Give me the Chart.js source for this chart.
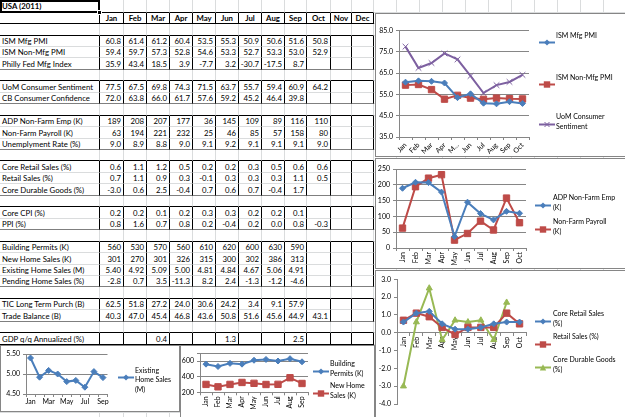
<!DOCTYPE html>
<html>
<head>
<meta charset="utf-8">
<script src="https://cdn.jsdelivr.net/npm/chart.js@4.4.0/dist/chart.umd.min.js"></script>
<style>
  body { margin: 0; background: #fff; font-family: Lato, "Liberation Sans", sans-serif; }
  #page { position: absolute; left: 0; top: 0; width: 625px; height: 417px; overflow: hidden; background: #fff; }
  .cell { position: absolute; box-sizing: border-box; font-size: 7.8px; white-space: nowrap; overflow: hidden; color: #000; }
  .box { position: absolute; box-sizing: border-box; background: #fff; border: 1px solid #868686; overflow: hidden; }
  .box canvas { position: absolute; left: 0; top: 0; }
  .leg { position: absolute; font-size: 7px; line-height: 9.2px; color: #000; white-space: nowrap; }
  .sw { position: absolute; }
</style>
</head>
<body>
<div id="page">
  <div id="sheet"></div>
  <div class="box" style="left:375px;top:13px;width:252px;height:144px"><canvas id="c1" width="250" height="142"></canvas></div>
  <div class="box" style="left:375px;top:158px;width:252px;height:111px"><canvas id="c2" width="250" height="109"></canvas></div>
  <div class="box" style="left:375px;top:270px;width:252px;height:150px"><canvas id="c3" width="250" height="148"></canvas></div>
  <div class="box" style="left:0px;top:345px;width:180px;height:67px"><canvas id="c4" width="178" height="65"></canvas></div>
  <div class="box" style="left:180px;top:345px;width:195px;height:76px"><canvas id="c5" width="193" height="74"></canvas></div>
  <div id="legends"></div>
</div>
<script>
// spreadsheet values, USA 2011
const months = ['Jan', 'Feb', 'Mar', 'Apr', 'May', 'Jun', 'Jul', 'Aug', 'Sep', 'Oct', 'Nov', 'Dec'];
const ismMfg = [60.8, 61.4, 61.2, 60.4, 53.5, 55.3, 50.9, 50.6, 51.6, 50.8];
const ismNonMfg = [59.4, 59.7, 57.3, 52.8, 54.6, 53.3, 52.7, 53.3, 53.0, 52.9];
const phillyFed = [35.9, 43.4, 18.5, 3.9, -7.7, 3.2, -30.7, -17.5, 8.7];
const uomSentiment = [77.5, 67.5, 69.8, 74.3, 71.5, 63.7, 55.7, 59.4, 60.9, 64.2];
const cbConfidence = [72.0, 63.8, 66.0, 61.7, 57.6, 59.2, 45.2, 46.4, 39.8];
const adpEmp = [189, 208, 207, 177, 36, 145, 109, 89, 116, 110];
const nonFarmPayroll = [63, 194, 221, 232, 25, 46, 85, 57, 158, 80];
const unemployment = [9.0, 8.9, 8.8, 9.0, 9.1, 9.2, 9.1, 9.1, 9.1, 9.0];
const coreRetail = [0.6, 1.1, 1.2, 0.5, 0.2, 0.2, 0.3, 0.5, 0.6, 0.6];
const retailSales = [0.7, 1.1, 0.9, 0.3, -0.1, 0.3, 0.3, 0.3, 1.1, 0.5];
const coreDurable = [-3.0, 0.6, 2.5, -0.4, 0.7, 0.6, 0.7, -0.4, 1.7];
const coreCpi = [0.2, 0.2, 0.1, 0.2, 0.3, 0.3, 0.2, 0.2, 0.1];
const ppi = [0.8, 1.6, 0.7, 0.8, 0.2, -0.4, 0.2, 0.0, 0.8, -0.3];
const buildingPermits = [560, 530, 570, 560, 610, 620, 600, 630, 590];
const newHomeSales = [301, 270, 301, 326, 315, 300, 302, 386, 313];
const existingHomeSales = [5.40, 4.92, 5.09, 5.00, 4.81, 4.84, 4.67, 5.06, 4.91];
const pendingHomeSales = [-2.8, 0.7, 3.5, -11.3, 8.2, 2.4, -1.3, -1.2, -4.6];
const ticPurchases = [62.5, 51.8, 27.2, 24.0, 30.6, 24.2, 3.4, 9.1, 57.9];
const tradeBalance = [40.3, 47.0, 45.4, 46.8, 43.6, 50.8, 51.6, 45.6, 44.9, 43.1];
const gdpAnnualized = [null, null, 0.4, null, null, 1.3, null, null, 2.5];

// axis tick labels of the charts
const surveyTicks = [35, 45, 55, 65, 75, 85];
const jobsTicks = [0, 50, 100, 150, 200, 250];
const retailTicks = [-4, -3, -2, -1, 0, 1, 2, 3];
const existingTicks = [4.5, 5.0, 5.5];
const housingTicks = [200, 400, 600];
const housingMax = 700;

const tableGroups = [
  [['ISM Mfg PMI', ismMfg, 1], ['ISM Non-Mfg PMI', ismNonMfg, 1], ['Philly Fed Mfg Index', phillyFed, 1]],
  [['UoM Consumer Sentiment', uomSentiment, 1], ['CB Consumer Confidence', cbConfidence, 1]],
  [['ADP Non-Farm Emp (K)', adpEmp, 0], ['Non-Farm Payroll (K)', nonFarmPayroll, 0], ['Unemplyment Rate (%)', unemployment, 1]],
  [['Core Retail Sales (%)', coreRetail, 1], ['Retail Sales (%)', retailSales, 1], ['Core Durable Goods (%)', coreDurable, 1]],
  [['Core CPI (%)', coreCpi, 1], ['PPI (%)', ppi, 1]],
  [['Building Permits (K)', buildingPermits, 0], ['New Home Sales (K)', newHomeSales, 0], ['Existing Home Sales (M)', existingHomeSales, 2], ['Pending Home Sales (%)', pendingHomeSales, 1]],
  [['TIC Long Term Purch (B)', ticPurchases, 1], ['Trade Balance (B)', tradeBalance, 1]],
  [['GDP q/q Annualized (%)', gdpAnnualized, 1]]
];

const GRIDLINE = '1px solid #dadcdd';
const BLACK = '1px solid #000';
const GROUP_END = '1px solid #7f7f7f';

// ---- the worksheet ----
const colX = [0, 100, 124, 147, 170, 193, 216, 239, 262, 285, 307, 331, 352, 374];
while (colX[colX.length - 1] < 640) colX.push(colX[colX.length - 1] + 23);
const rowY = [0];
for (let k = 2; k <= 40; k++) rowY.push(Math.round(12.6 + (k - 2) * 11.45));

const rows = [{ t: 'title' }, { t: 'header' }];
tableGroups.forEach((g, gi) => {
  rows.push({ t: 'blank' });
  g.forEach((r, ri) => rows.push({ t: 'data', label: r[0], values: r[1], dec: r[2],
    last: ri === g.length - 1, final: gi === tableGroups.length - 1 }));
});
while (rows.length < rowY.length - 1) rows.push({ t: 'empty' });

const sheet = document.getElementById('sheet');
rows.forEach((row, i) => {
  const top = rowY[i], h = rowY[i + 1] - rowY[i];
  const next = rows[i + 1] || { t: 'empty' };
  for (let c = 0; c < colX.length - 1; c++) {
    const inTable = c <= 12;
    const d = document.createElement('div');
    d.className = 'cell';
    const w = colX[c + 1] - colX[c];
    d.style.left = colX[c] + 'px';
    d.style.top = top + 'px';
    d.style.width = w + 'px';
    d.style.height = h + 'px';
    d.style.lineHeight = h + 'px';

    let right = GRIDLINE, bottom = GRIDLINE;
    if (inTable && (row.t === 'header' || row.t === 'data')) right = BLACK;
    if (row.t === 'title' && c >= 1 && inTable) bottom = BLACK;
    if (row.t === 'header' && inTable) bottom = BLACK;
    if (row.t === 'blank' && next.t === 'data' && inTable) bottom = BLACK;
    if (row.t === 'data' && row.last && inTable) bottom = row.final ? BLACK : GROUP_END;
    d.style.borderRight = right;
    d.style.borderBottom = bottom;

    let text = '';
    if (row.t === 'title' && c === 0) { text = 'USA (2011)'; d.style.fontWeight = 'bold'; d.style.paddingLeft = '2px'; }
    if (row.t === 'header' && c >= 1 && inTable) { text = months[c - 1]; d.style.fontWeight = 'bold'; d.style.textAlign = 'center'; }
    if (row.t === 'data') {
      if (c === 0) { text = row.label; d.style.paddingLeft = '2px'; }
      else if (inTable) {
        const v = row.values[c - 1];
        if (v !== undefined && v !== null) text = v.toFixed(row.dec);
        d.style.textAlign = 'right';
        d.style.paddingRight = '2px';
      }
    }
    d.textContent = text;
    sheet.appendChild(d);
  }
});
// active cell A1
const sel = document.createElement('div');
sel.style.cssText = 'position:absolute;left:0;top:0;width:100px;height:13px;box-sizing:border-box;border:2px solid #000;';
sheet.appendChild(sel);
const handle = document.createElement('div');
handle.style.cssText = 'position:absolute;left:97px;top:10px;width:5px;height:5px;box-sizing:border-box;background:#000;border:1px solid #fff;';
sheet.appendChild(handle);

// ---- the charts ----
Chart.defaults.font.family = 'Lato';
Chart.defaults.color = '#000';
const AXIS = '#868686';
const BLUE = '#4a7ebb', RED = '#be4b48', PURPLE = '#7d60a0', GREEN = '#98b954';

function series(label, data, color, marker, radius) {
  return {
    label, data, borderColor: color, backgroundColor: color,
    pointBackgroundColor: color, pointBorderColor: color, pointBorderWidth: 1,
    pointStyle: marker, pointRadius: radius, borderWidth: 2, tension: 0
  };
}

function makeChart(id, o) {
  const yMax = o.yMax ?? o.yTicks[o.yTicks.length - 1];
  const tickVals = yMax > o.yTicks[o.yTicks.length - 1] ? [...o.yTicks, yMax] : o.yTicks;
  const x = {
    position: o.xAtZero ? { y: 0 } : 'bottom',
    offset: true,
    grid: { display: true, drawOnChartArea: false, offset: true, color: AXIS, tickLength: 3 },
    border: { display: true, color: AXIS },
    ticks: {
      autoSkip: false, minRotation: o.rot, maxRotation: o.rot, padding: 1, font: { size: 7 },
      callback: function (v, i) {
        const l = this.getLabelForValue(v);
        return o.labelFn ? o.labelFn(l, i) : l;
      }
    }
  };
  if (!o.xAtZero) x.afterFit = s => { s.height = o.xHeight; };
  return new Chart(document.getElementById(id), {
    type: 'line',
    data: { labels: o.labels, datasets: o.datasets },
    options: {
      responsive: false, animation: false, devicePixelRatio: 1,
      layout: { padding: o.pad },
      plugins: { legend: { display: false }, tooltip: { enabled: false } },
      scales: {
        x,
        y: {
          min: o.yTicks[0], max: yMax,
          afterBuildTicks: s => { s.ticks = tickVals.map(v => ({ value: v })); },
          afterFit: s => { s.width = o.yWidth; },
          grid: { drawOnChartArea: o.grid, color: AXIS, tickLength: 3 },
          border: { display: true, color: AXIS },
          ticks: { padding: 3, font: { size: 7 },
            callback: v => o.yTicks.includes(v) ? v.toFixed(o.digits) : '' }
        }
      }
    }
  });
}

makeChart('c1', {
  labels: months.slice(0, 10),
  datasets: [
    series('ISM Mfg PMI', ismMfg, BLUE, 'rectRot', 3),
    series('ISM Non-Mfg PMI', ismNonMfg, RED, 'rect', 4.5),
    series('UoM Consumer Sentiment', uomSentiment, PURPLE, 'crossRot', 4)
  ],
  yTicks: surveyTicks, digits: 1, grid: true, rot: 45,
  labelFn: (l, i) => i === 4 ? 'M...' : l,
  yWidth: 23, xHeight: 19, pad: { top: 16.7, right: 97, bottom: 0, left: 0 }
});

makeChart('c2', {
  labels: months.slice(0, 10),
  datasets: [
    series('ADP Non-Farm Emp (K)', adpEmp, BLUE, 'rectRot', 3),
    series('Non-Farm Payroll (K)', nonFarmPayroll, RED, 'rect', 4.5)
  ],
  yTicks: jobsTicks, digits: 0, grid: true, rot: 90,
  yWidth: 20, xHeight: 20, pad: { top: 10, right: 100, bottom: 0, left: 0 }
});

makeChart('c3', {
  labels: months.slice(0, 10),
  datasets: [
    series('Core Retail Sales (%)', coreRetail, BLUE, 'rectRot', 3),
    series('Retail Sales (%)', retailSales, RED, 'rect', 4.5),
    series('Core Durable Goods (%)', coreDurable, GREEN, 'triangle', 3.5)
  ],
  yTicks: retailTicks, digits: 1, grid: false, rot: 90, xAtZero: true,
  yWidth: 21, pad: { top: 8.3, right: 100, bottom: 15, left: 0 }
});

makeChart('c4', {
  labels: months.slice(0, 9),
  datasets: [series('Existing Home Sales (M)', existingHomeSales, BLUE, 'rectRot', 3)],
  yTicks: existingTicks, digits: 2, grid: true, rot: 0,
  labelFn: (l, i) => i % 2 === 0 ? l : '',
  yWidth: 25, xHeight: 17, pad: { top: 8, right: 71.5, bottom: 0, left: 0 }
});

makeChart('c5', {
  labels: months.slice(0, 9),
  datasets: [
    series('Building Permits (K)', buildingPermits, BLUE, 'rectRot', 3),
    series('New Home Sales (K)', newHomeSales, RED, 'rect', 4.5)
  ],
  yTicks: housingTicks, yMax: housingMax, digits: 0, grid: true, rot: 90,
  yWidth: 19, xHeight: 27.7, pad: { top: 4.7, right: 66, bottom: 0, left: 0 }
});

// ---- legends (Excel style, wrapped text) ----
function swatch(color, marker) {
  let m = '';
  if (marker === 'diamond') m = `<polygon points="8,1.5 11,4.5 8,7.5 5,4.5" fill="${color}"/>`;
  if (marker === 'square') m = `<rect x="4.8" y="1.3" width="6.4" height="6.4" fill="${color}"/>`;
  if (marker === 'cross') m = `<path d="M5.5,2L10.5,7M10.5,2L5.5,7" stroke="${color}" stroke-width="1"/>`;
  if (marker === 'triangle') m = `<polygon points="8,1.3 11.2,7.5 4.8,7.5" fill="${color}"/>`;
  return `<svg width="16" height="9"><line x1="0" y1="4.5" x2="16" y2="4.5" stroke="${color}" stroke-width="2"/>${m}</svg>`;
}
const legendItems = [
  [539, 556, 35.7, ['ISM Mfg PMI'], BLUE, 'diamond'],
  [539, 556, 77.5, ['ISM Non-Mfg PMI'], RED, 'square'],
  [539, 556, 117, ['UoM Consumer', 'Sentiment'], PURPLE, 'cross'],
  [535, 553, 198, ['ADP Non-Farm Emp', '(K)'], BLUE, 'diamond'],
  [535, 553, 222, ['Non-Farm Payroll', '(K)'], RED, 'square'],
  [535, 553, 314, ['Core Retail Sales', '(%)'], BLUE, 'diamond'],
  [535, 553, 337, ['Retail Sales (%)'], RED, 'square'],
  [535, 553, 360, ['Core Durable Goods', '(%)'], GREEN, 'triangle'],
  [118, 135, 370.7, ['Existing', 'Home Sales', '(M)'], BLUE, 'diamond'],
  [313, 330, 364, ['Building', 'Permits (K)'], BLUE, 'diamond'],
  [313, 330, 386, ['New Home', 'Sales (K)'], RED, 'square']
];
const legends = document.getElementById('legends');
legendItems.forEach(([sx, tx, cy, lines, color, marker]) => {
  const s = document.createElement('div');
  s.className = 'sw';
  s.style.left = sx + 'px';
  s.style.top = (cy - 4.5) + 'px';
  s.innerHTML = swatch(color, marker);
  legends.appendChild(s);
  const t = document.createElement('div');
  t.className = 'leg';
  t.style.left = tx + 'px';
  t.style.top = (cy - 4.6) + 'px';
  t.innerHTML = lines.join('<br>');
  legends.appendChild(t);
});
</script>
</body>
</html>
